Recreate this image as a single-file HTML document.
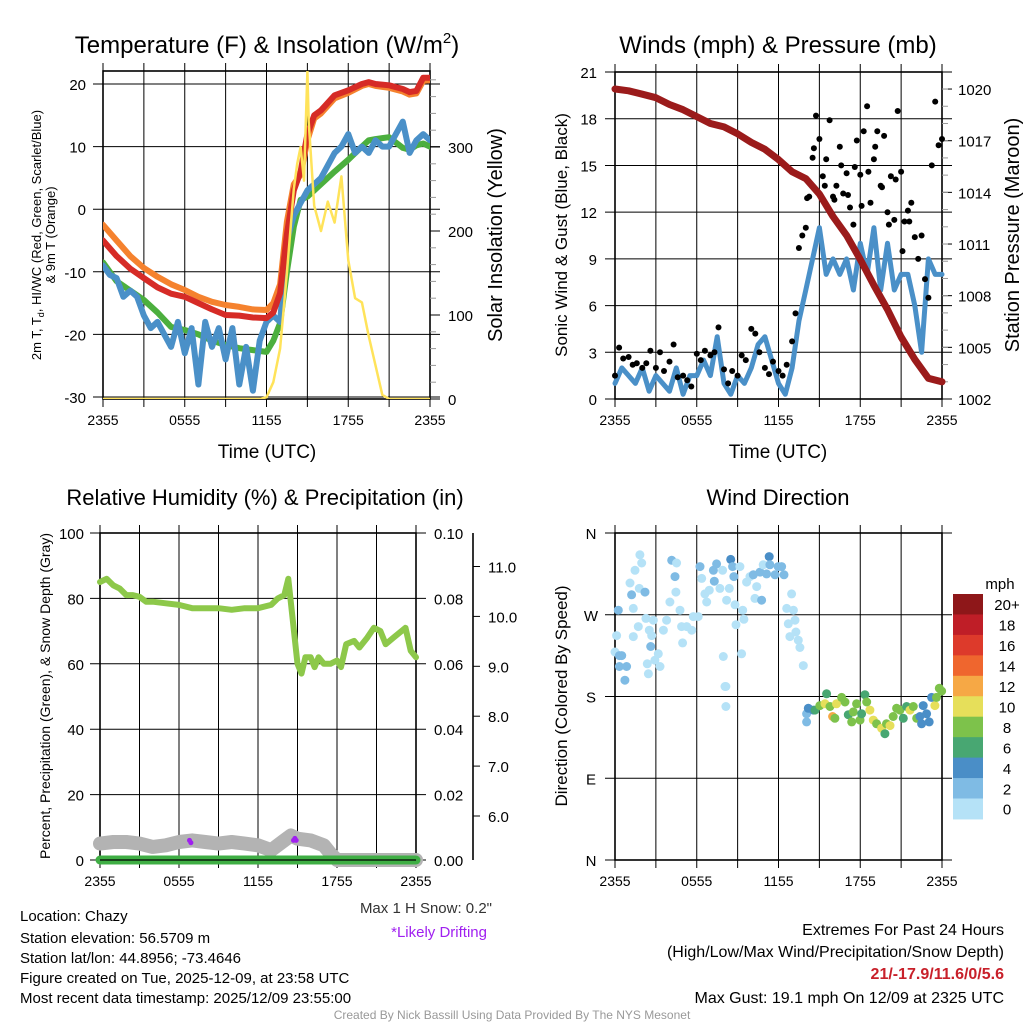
<!DOCTYPE html>
<html><head><meta charset="utf-8"><style>
html,body{margin:0;padding:0;background:#fff;}
svg{display:block;font-family:"Liberation Sans",sans-serif;}
</style></head><body>
<svg id="fig" width="1024" height="1024" viewBox="0 0 1024 1024" xmlns="http://www.w3.org/2000/svg">
<rect x="0" y="0" width="1024" height="1024" fill="#fff"/>
<text x="267" y="53" font-size="24" text-anchor="middle">Temperature (F) &amp; Insolation (W/m<tspan font-size="15" dy="-10">2</tspan><tspan dy="10">)</tspan></text>
<text x="778" y="53" font-size="24" text-anchor="middle">Winds (mph) &amp; Pressure (mb)</text>
<text x="265" y="505" font-size="22" text-anchor="middle">Relative Humidity (%) &amp; Precipitation (in)</text>
<text x="778" y="505" font-size="22" text-anchor="middle">Wind Direction</text>
<text x="267" y="458" font-size="19" text-anchor="middle">Time (UTC)</text>
<text x="778" y="458" font-size="19" text-anchor="middle">Time (UTC)</text>
<text transform="translate(41,235) rotate(-90)" font-size="13" text-anchor="middle">2m T, T<tspan font-size="9" dy="3">d</tspan><tspan dy="-3">, HI/WC (Red, Green, Scarlet/Blue)</tspan></text>
<text transform="translate(55,235) rotate(-90)" font-size="13" text-anchor="middle">&amp; 9m T (Orange)</text>
<text transform="translate(502,235) rotate(-90)" font-size="20" text-anchor="middle">Solar Insolation (Yellow)</text>
<text transform="translate(567,235) rotate(-90)" font-size="17" text-anchor="middle">Sonic Wind &amp; Gust (Blue, Black)</text>
<text transform="translate(1019,235) rotate(-90)" font-size="20" text-anchor="middle">Station Pressure (Maroon)</text>
<text transform="translate(50,696) rotate(-90)" font-size="14" text-anchor="middle">Percent, Precipitation (Green), &amp; Snow Depth (Gray)</text>
<text transform="translate(567,696) rotate(-90)" font-size="17" text-anchor="middle">Direction (Colored By Speed)</text>
<text x="492" y="913" font-size="15" fill="#333" text-anchor="end">Max 1 H Snow: 0.2"</text>
<text x="487" y="937" font-size="15" fill="#a020f0" text-anchor="end">*Likely Drifting</text>
<g font-size="15">
<text x="20" y="921">Location: Chazy</text>
<text x="20" y="943">Station elevation: 56.5709 m</text>
<text x="20" y="963">Station lat/lon: 44.8956; -73.4646</text>
<text x="20" y="983">Figure created on Tue, 2025-12-09, at 23:58 UTC</text>
<text x="20" y="1003">Most recent data timestamp: 2025/12/09 23:55:00</text>
</g>
<g font-size="16" text-anchor="end">
<text x="1004" y="935">Extremes For Past 24 Hours</text>
<text x="1004" y="957">(High/Low/Max Wind/Precipitation/Snow Depth)</text>
<text x="1004" y="979" fill="#c8202a" font-weight="bold">21/-17.9/11.6/0/5.6</text>
<text x="1004" y="1003">Max Gust: 19.1 mph On 12/09 at 2325 UTC</text>
</g>
<text x="512" y="1019" font-size="12" fill="#999" text-anchor="middle">Created By Nick Bassill Using Data Provided By The NYS Mesonet</text>
<g id="layer"></g>
</svg>
<script>
// ---------- data ----------
const timeLabels = ["2355","0555","1155","1755","2355"];
const tempHours = [0,1,2,3,4,5,6,7,8,9,10,11,12,12.5,13,13.5,14,14.5,15,15.5,16,17,18,19,19.5,20,21,22,22.5,23,23.5,24];
const tempRed   = [-5,-7.5,-9.5,-11,-12.5,-13.5,-14,-15,-16,-16.9,-17,-17.3,-17.4,-16.5,-13.4,-4,3,6,12,15,15.8,18.2,19,20,20.3,20,19.8,19.2,18.7,18.9,21,21];
const tempOrange= [-2.5,-5,-7.5,-9.4,-10.8,-12,-12.9,-14,-14.8,-15.3,-15.6,-16,-16.1,-15,-12,-2,4,5.5,11,14.5,15.3,17.7,18.6,19.7,20,19.7,19.4,18.8,18.3,18.5,20.5,20.6];
const tempGreen = [-8.5,-11.5,-13,-14.5,-16.5,-18.8,-19.3,-20,-21,-21.7,-22.2,-22.5,-22.8,-21,-18.2,-10,-2.8,1.5,2,3,4,6,7.9,10,11,11.2,11.5,9.8,9.5,10.2,10.5,10];
const wcHours = [0,0.5,1,1.5,2,2.5,3,3.5,4,4.5,5,5.5,6,6.5,7,7.5,8,8.5,9,9.5,10,10.5,11,11.5,12,12.5,13,13.5,14,14.5,15,15.5,16,16.5,17,17.5,18,18.5,19,19.5,20,20.5,21,21.5,22,22.5,23,23.5,24];
const wcBlue = [-9,-10.5,-11,-14,-13,-14,-17,-19,-18,-20,-22,-18,-23,-19,-28,-18,-22,-19,-24,-19,-28,-22,-29,-21,-18,-17,-18,-5,-1,1,3,4,5,7,9,10,12,9,10,9,11,10,10,12,14,9,11,12,11];
const solarHours = [0,11.5,12,12.5,13,13.5,14,14.25,14.5,14.75,15,15.1,15.5,16,16.5,17,17.5,18,18.5,19,19.5,20,20.5,21,24];
const solarVals  = [0,0,2,20,60,150,250,280,300,260,390,330,230,200,235,210,265,165,120,115,75,40,5,0,0];

const presHours = [0,1,2,3,4,5,6,7,8,9,10,11,12,13,14,15,16,17,18,19,20,21,22,23,24];
const presVals  = [1020,1019.9,1019.7,1019.5,1019.1,1018.8,1018.4,1018.0,1017.8,1017.4,1016.9,1016.5,1015.9,1015.2,1014.8,1013.9,1012.6,1011.5,1010.1,1008.6,1007.2,1005.6,1004.3,1003.2,1003.0];
const windVals  = [1,2,1.5,1,2,0.5,1.5,1,0.5,2,0.3,1.5,1.5,2.5,1.5,4,1,0.3,1.5,1,2,3.5,4,2.5,1,0.3,2,5,7,9,11,8,9,8,9,7,10,8,11,7,10,7,8,8,6,3,9,8,8];
const gustHours = [0,0.3,0.6,1,1.3,1.6,2,2.3,2.6,3,3.3,3.6,4,4.3,4.6,5,5.3,5.6,6,6.3,6.6,7,7.3,7.6,8,8.3,8.6,9,9.3,9.6,10,10.3,10.6,11,11.3,11.6,12,12.3,12.6,13,13.25,13.5,13.75,14,14.25,14.5,14.75,15,15.25,15.5,15.75,16,16.25,16.5,16.75,17,17.25,17.5,17.75,18,18.25,18.5,18.75,19,19.25,19.5,19.75,20,20.25,20.5,20.75,21,21.25,21.5,21.75,22,22.25,22.5,22.75,23,23.25,23.5,23.75,24,14.1,14.6,15.4,16.1,16.6,17.1,17.6,18.1,18.6,19.1,19.6,20.1,20.6,21.1,21.6];
const gustVals  = [1.5,3.3,2.6,2.7,2.2,2.3,2,2.3,3.1,2,3,1.8,2.4,3.5,1.4,1.5,1.2,0.8,2.9,2.5,3.1,2.8,3,4.6,1.9,1,1.8,1.5,2.8,2.5,4.5,4.2,3,2,1.6,2.4,1.8,1.5,2.2,3.7,5.5,9.7,10.5,11,13,15.5,18.2,16.7,14.3,15.4,17.9,13,13.7,16.2,13.2,14.5,12.3,11.2,16.6,14.4,17.2,18.8,12.6,15.4,17.2,13.7,16.9,12,14.3,11.5,18.5,14.6,11.4,12.1,12.6,10.4,9,10.5,7.7,6.5,15,19.1,16.3,16.7,12.9,16.1,13.7,12.8,15,13.1,14.9,12.4,14.6,16.2,13.6,11.2,14.1,9.5,11.4];

const rhHours = [0,0.5,1,1.5,2,2.5,3,3.5,4,5,6,7,8,9,10,11,12,13,13.5,14,14.3,14.6,15,15.3,15.6,16,16.3,16.6,17,17.5,18,18.3,18.7,19.3,19.7,20.3,20.8,21.3,21.7,22.3,23.2,23.6,24];
const rhVals  = [85,86,84,83,81,81,80.5,79,79,78.5,78,77,77,77,76.5,77,77,78,80,81,86,75,60,57,62,62,59,62,60,60,61,59,66,67,65,68,71,70,66,68,71,64,62];
const snowHours = [0,1,2,3,4,5,6,7,8,9,10,11,12,13,14,14.5,15,16,17,17.5,18,24];
const snowVals  = [5,5.5,5.5,5,4,4.5,5.5,6,5.5,5,5.5,5,4.5,3,6,7.5,6.5,6,4.5,2,0,0];
const driftHours = [6.8,6.9,14.7,14.8,14.9];
const driftVals  = [6,5.3,6,6.6,6];
const precipHours = [0,24];
const precipVals  = [0,0];
const rightPrecipTicks = ["0.00","0.02","0.04","0.06","0.08","0.10"];
const snowAxisTicks = [6,7,8,9,10,11];

const dirHours = [0.0,0.12,0.24,0.32,0.32,0.49,0.73,0.85,1.10,1.22,1.34,1.34,1.47,1.71,1.83,1.96,1.78,2.20,2.27,2.37,2.52,2.62,2.69,2.45,2.81,2.93,3.18,3.30,3.55,3.79,4.03,4.16,4.40,4.52,4.47,4.77,4.96,4.89,5.26,5.63,5.75,6.11,6.24,6.36,6.60,6.73,6.92,7.22,7.29,7.46,7.70,7.90,7.95,8.19,8.14,8.07,8.14,8.39,8.49,8.63,8.73,8.81,8.88,9.17,9.29,9.37,9.46,9.66,9.91,10.15,10.27,10.40,10.64,10.76,10.88,11.13,11.32,11.37,11.74,11.98,12.23,12.40,12.60,12.72,12.84,12.96,13.09,13.28,13.45,13.57,13.82,13.21,
 14.06,14.06,14.19,14.55,14.68,15.04,15.41,15.53,15.78,15.97,16.14,16.26,16.63,16.88,17.12,17.37,17.49,17.73,17.98,18.10,18.34,18.47,18.71,18.96,19.20,19.57,19.81,19.93,20.18,20.42,20.67,20.91,21.16,21.40,21.65,21.89,22.14,22.38,22.50,22.62,22.87,23.06,23.24,23.48,23.60,23.80,23.97];
const dirDeg = [229,247,275,225,213,225,198,213,305,292,277,246,319,257,336,327,299,295,266,216,253,235,247,205,264,220,227,213,253,264,284,330,312,327,295,275,239,257,257,253,268,268,323,310,293,284,297,319,307,326,299,319,224,286,191,191,169,299,331,323,312,281,259,323,227,275,265,306,312,314,288,301,317,286,325,315,334,325,314,323,323,314,277,260,246,293,275,251,242,234,214,264,
 152,161,167,165,165,170,172,183,169,158,156,172,179,174,160,152,163,172,154,161,182,174,165,154,150,145,139,150,148,158,167,165,156,169,165,169,156,158,150,170,161,152,179,170,179,189,186];
const dirSpd = [1,1,3,3,3,3,3,3,1,3,1,1,1,1,1,1,1,3,1,1,1,3,1,1,1,1,1,1,1,1,1,3,3,1,1,1,1,1,1,1,1,1,3,1,1,1,1,3,3,3,1,1,1,1,1,1,1,1,5,3,3,1,1,1,1,1,1,1,1,3,1,1,3,3,1,3,5,3,3,3,3,3,1,1,1,1,1,1,1,1,1,1,
 3,3,5,5,7,9,11,7,9,13,9,11,9,9,7,9,9,9,9,7,7,9,11,11,9,11,7,9,11,9,9,9,7,7,11,9,9,5,5,5,5,5,5,11,9,9,9];
const speedBins = ["0","2","4","6","8","10","12","14","16","18","20+"];
const speedColors = ["#b5e2f7","#7fbbe4","#4a8ec7","#48a772","#7dc24b","#e6df5a","#f6a845","#ef662e","#dd3a2b","#bf1e27","#8e1719"];

// ---------- helpers ----------
const NS="http://www.w3.org/2000/svg";
const layer=document.getElementById('layer');
function mk(tag, attrs, name, parent){
  const el=document.createElementNS(NS,tag);
  for(const k in attrs) el.setAttribute(k,attrs[k]);
  
  
  (parent||layer).appendChild(el);
  return el;
}
function txt(x,y,s,size,anchor,name,fill){
  const t=mk('text',{x:x,y:y,'font-size':size,'text-anchor':anchor||'middle',fill:fill||'#000'},name);
  t.textContent=s; return t;
}
function pathOf(hs,vs,fx,fy){
  let d='';
  for(let i=0;i<hs.length;i++){ d+=(i?'L':'M')+fx(hs[i]).toFixed(1)+','+fy(vs[i]).toFixed(1); }
  return d;
}
function series(hs,vs,fx,fy,color,w,name,clip){
  const a={d:pathOf(hs,vs,fx,fy),fill:'none',stroke:color,'stroke-width':w,'stroke-linejoin':'round','stroke-linecap':'round'};
  if(clip) a['clip-path']='url(#'+clip+')';
  return mk('path',a,name);
}
function dots(hs,vs,fx,fy,color,r,name){
  const g=mk('g',{fill:color},name);
  for(let i=0;i<hs.length;i++){
    mk('circle',{cx:fx(hs[i]).toFixed(1),cy:fy(vs[i]).toFixed(1),r:r},name+'-point',g);
  }
}
function panelGrid(x0,x1,yT,yB,hGrid,prefix){
  for(let k=0;k<=8;k++){
    const x=x0+(x1-x0)*k/8;
    mk('line',{x1:x,y1:yT-8,x2:x,y2:yB+8,stroke:'#000','stroke-width':1},prefix+'-v-grid');
  }
  hGrid.forEach(y=>mk('line',{x1:x0-10,y1:y,x2:x1+10,y2:y,stroke:'#000','stroke-width':1},prefix+'-h-grid'));
  mk('rect',{x:x0,y:yT,width:x1-x0,height:yB-yT,fill:'none',stroke:'#000','stroke-width':1.6},prefix+'-frame');
  timeLabels.forEach((s,i)=>txt(x0+(x1-x0)*i/4,yB+26,s,14,'middle',prefix+'-x-tick-label'));
}
const defs=mk('defs',{},'defs');

// ---------- panel 1: temperature ----------
const p1={x0:103,x1:430,top:71,bot:399};
const fx1=h=>p1.x0+(p1.x1-p1.x0)*h/24;
const fyT=v=>84+(20-v)*6.26;
const fyI=v=>399-v*0.84;
const cp1=mk('clipPath',{id:'c1'},'clip-temp',defs);
mk('rect',{x:p1.x0,y:p1.top,width:p1.x1-p1.x0,height:p1.bot-p1.top},'clip-rect',cp1);
const tTicks=[20,10,0,-10,-20,-30];
panelGrid(p1.x0,p1.x1,p1.top,p1.bot,tTicks.map(fyT),'temp');
tTicks.forEach(v=>txt(86,fyT(v)+6,String(v),15,'end','temp-y-tick-label'));
[0,100,200,300].forEach(v=>{mk('line',{x1:p1.x1,y1:fyI(v),x2:p1.x1+10,y2:fyI(v),stroke:'#000'},'insolation-tick');txt(448,fyI(v)+6,String(v),15,'start','insolation-tick-label');});
for(let v=20;v<390;v+=20){ if(v%100) mk('line',{x1:p1.x1,y1:fyI(v),x2:p1.x1+6,y2:fyI(v),stroke:'#999'},'insolation-minor-tick'); }
series(tempHours,tempOrange,fx1,fyT,'#f5822e',6,'orange-9m-temp-line','c1');
series(tempHours,tempGreen,fx1,fyT,'#4caf3e',6,'green-dewpoint-line','c1');
series(wcHours,wcBlue,fx1,fyT,'#4a90c8',6,'blue-windchill-line','c1');
series(tempHours,tempRed,fx1,fyT,'#d62b26',6,'red-2m-temp-line','c1');
series(solarHours,solarVals,fx1,fyI,'#ffe35a',2.5,'yellow-insolation-line','c1');

// ---------- panel 2: winds ----------
const p2={x0:615,x1:942,top:72,bot:399};
const fx2=h=>p2.x0+(p2.x1-p2.x0)*h/24;
const fyW=v=>399-v*15.57;
const fyP=v=>399-(v-1002)*17.22;
const wTicks=[0,3,6,9,12,15,18,21];
panelGrid(p2.x0,p2.x1,p2.top,p2.bot,wTicks.map(fyW),'wind');
wTicks.forEach(v=>txt(597,fyW(v)+6,String(v),15,'end','wind-y-tick-label'));
[1002,1005,1008,1011,1014,1017,1020].forEach(v=>{mk('line',{x1:p2.x1,y1:fyP(v),x2:p2.x1+10,y2:fyP(v),stroke:'#000'},'pressure-tick');txt(958,fyP(v)+6,String(v),15,'start','pressure-tick-label');});
for(let v=1003;v<1021;v++){ mk('line',{x1:p2.x1,y1:fyP(v),x2:p2.x1+6,y2:fyP(v),stroke:'#999'},'pressure-minor-tick'); }
series(wcHours,windVals,fx2,fyW,'#4a90c8',5,'blue-sonic-wind-line');
dots(gustHours,gustVals,fx2,fyW,'#000',3,'black-gust-dots');
series(presHours,presVals,fx2,fyP,'#9b1b1b',7,'maroon-pressure-line');

// ---------- panel 3: humidity ----------
const p3={x0:100,x1:416,top:533,bot:860};
const fx3=h=>p3.x0+(p3.x1-p3.x0)*h/24;
const fyR=v=>860-v*3.27;
const fyS=v=>816-(v-6)*49.9;
const rTicks=[0,20,40,60,80,100];
panelGrid(p3.x0,p3.x1,p3.top,p3.bot,rTicks.map(fyR),'rh');
rTicks.forEach((v,i)=>{txt(84,fyR(v)+6,String(v),15,'end','rh-y-tick-label');txt(434,fyR(v)+6,rightPrecipTicks[i],15,'start','precip-tick-label');});
mk('line',{x1:473,y1:533,x2:473,y2:860,stroke:'#000','stroke-width':1.6},'snow-depth-axis');
snowAxisTicks.forEach(v=>{mk('line',{x1:473,y1:fyS(v),x2:480,y2:fyS(v),stroke:'#000'},'snow-depth-tick');txt(488,fyS(v)+6,v.toFixed(1),15,'start','snow-depth-tick-label');});
series(snowHours,snowVals,fx3,fyR,'#b3b3b3',14,'gray-snow-depth-line');
dots(driftHours,driftVals,fx3,fyR,'#a020f0',2.5,'purple-drifting-dots');
series(precipHours,precipVals,fx3,fyR,'#3fae44',9,'green-precipitation-line');
mk('line',{x1:p3.x0,y1:860,x2:p3.x1,y2:860,stroke:'#000','stroke-width':1.2},'rh-zero-line');
series(rhHours,rhVals,fx3,fyR,'#8dc84a',6,'green-rh-line');

// ---------- panel 4: wind direction ----------
const p4={x0:615,x1:942,top:533,bot:860};
const fx4=h=>p4.x0+(p4.x1-p4.x0)*h/24;
const fyD=v=>860-v*0.9083;
const dTicks=[0,90,180,270,360];
const dNames=["N","E","S","W","N"];
panelGrid(p4.x0,p4.x1,p4.top,p4.bot,dTicks.map(fyD),'dir');
dTicks.forEach((v,i)=>txt(591,fyD(v)+6,dNames[i],15,'middle','dir-y-tick-label'));
const dg=mk('g',{},'direction-dots');
for(let i=0;i<dirHours.length;i++){
  const bin=Math.min(10,Math.floor(dirSpd[i]/2));
  mk('circle',{cx:fx4(dirHours[i]).toFixed(1),cy:fyD(dirDeg[i]).toFixed(1),r:4.5,fill:speedColors[bin]},'direction-point',dg);
}
// colorbar
const cbTop=594,cbH=20.45;
txt(1000,589,'mph',15,'middle','colorbar-unit');
for(let b=0;b<speedBins.length;b++){
  const idx=speedBins.length-1-b;
  mk('rect',{x:953,y:cbTop+b*cbH,width:30,height:cbH+0.5,fill:speedColors[idx]},'colorbar-box');
  txt(1007,cbTop+b*cbH+cbH/2+6,speedBins[idx],15,'middle','colorbar-label');
}
</script>
</body></html>
